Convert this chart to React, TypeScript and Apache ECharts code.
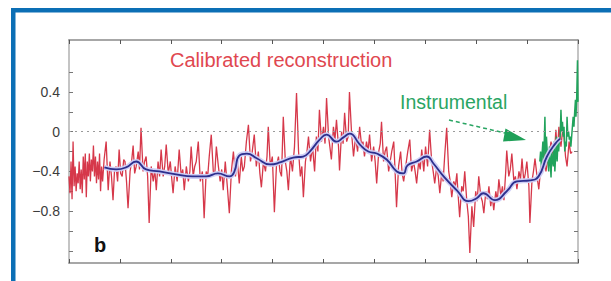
import React, { useEffect, useRef } from "react";
import * as echarts from "echarts";

// Calibrated reconstruction (year, anomaly)
const reconstruction: [number, number][] = [
  [0, -0.45], [4, -0.62], [8, -0.3], [12, -0.68], [16, -0.1], [20, -0.55], [24, -0.35], [28, -0.6],
  [32, -0.42], [36, -0.52], [40, -0.3], [44, -0.58], [48, -0.38], [52, -0.62], [56, -0.25], [60, -0.48],
  [64, -0.22], [68, -0.66], [72, -0.3], [76, -0.45], [80, -0.22], [84, -0.5], [88, -0.28], [92, -0.4],
  [96, -0.14], [100, -0.45], [104, -0.25], [108, -0.52], [112, -0.3], [116, -0.48], [120, -0.22], [124, -0.6],
  [128, -0.35], [132, -0.5], [138, -0.28], [146, -0.1], [154, -0.59], [161, -0.3], [167, -0.45], [173, -0.69],
  [179, -0.38], [185, -0.35], [191, -0.5], [197, -0.18], [203, -0.42], [209, -0.45], [215, -0.28], [220, -0.3],
  [226, -0.5], [232, -0.77], [240, -0.4], [246, -0.3], [252, -0.14], [258, -0.42], [264, -0.35], [272, -0.2],
  [277, -0.38], [283, 0.04], [291, -0.4], [297, -0.3], [303, -0.25], [309, -0.45], [315, -0.92], [323, -0.35],
  [331, -0.5], [337, -0.38], [343, -0.59], [350, -0.3], [356, -0.45], [362, -0.18], [370, -0.45], [376, -0.35],
  [382, -0.13], [390, -0.42], [398, -0.3], [404, -0.48], [409, -0.62], [417, -0.35], [425, -0.5], [433, -0.18],
  [441, -0.45], [447, -0.38], [453, -0.59], [461, -0.35], [469, -0.5], [475, -0.4], [480, -0.15], [488, -0.45],
  [494, -0.35], [500, -0.3], [508, -0.1], [516, -0.5], [524, -0.4], [531, -0.87], [539, -0.4], [545, -0.45],
  [551, -0.25], [559, -0.03], [567, -0.4], [573, -0.42], [579, -0.15], [587, -0.35], [594, -0.5], [600, -0.38],
  [606, -0.59], [614, -0.3], [622, -0.55], [630, -0.82], [638, -0.4], [646, -0.2], [654, -0.45], [661, -0.28],
  [669, -0.52], [677, -0.25], [683, -0.4], [689, -0.35], [697, -0.1], [705, 0.07], [713, -0.3], [720, -0.2],
  [728, -0.03], [736, -0.35], [744, -0.2], [750, -0.42], [756, -0.56], [764, -0.3], [772, -0.4], [778, -0.25],
  [783, 0.05], [791, -0.35], [799, -0.25], [807, -0.81], [815, -0.35], [823, -0.25], [829, -0.4], [835, -0.45],
  [842, 0.15], [850, -0.3], [856, -0.4], [862, -0.59], [870, -0.25], [878, -0.4], [886, -0.15], [894, 0.39],
  [902, -0.2], [909, -0.45], [915, -0.35], [921, -0.66], [929, -0.3], [935, -0.2], [941, -0.05], [949, -0.3],
  [957, -0.15], [965, -0.4], [972, -0.05], [978, -0.2], [984, 0.22], [992, -0.1], [1000, 0.05], [1006, -0.12],
  [1012, 0.34], [1020, -0.05], [1025, -0.15], [1031, -0.28], [1039, 0.05], [1045, -0.08], [1051, 0.12],
  [1059, -0.15], [1063, -0.39], [1071, 0.0], [1077, -0.12], [1083, 0.19], [1091, -0.1], [1097, -0.05],
  [1102, 0.4], [1110, 0.0], [1118, -0.25], [1126, -0.05], [1134, -0.2], [1142, 0.05], [1150, -0.15],
  [1155, -0.1], [1161, -0.25], [1169, -0.1], [1175, -0.2], [1181, -0.03], [1189, -0.3], [1197, -0.15],
  [1203, -0.3], [1209, -0.52], [1217, -0.2], [1223, -0.12], [1228, 0.1], [1236, -0.3], [1242, -0.2],
  [1248, -0.15], [1256, -0.4], [1262, -0.3], [1268, -0.2], [1276, -0.1], [1281, -0.38], [1287, -0.76],
  [1295, -0.35], [1303, -0.2], [1309, -0.42], [1315, -0.5], [1323, -0.35], [1331, -0.2], [1339, -0.08],
  [1346, -0.4], [1354, -0.3], [1360, -0.4], [1366, -0.52], [1374, -0.3], [1380, -0.38], [1386, -0.18],
  [1394, -0.4], [1401, -0.15], [1409, -0.35], [1417, 0.02], [1425, -0.3], [1431, -0.4], [1437, -0.52],
  [1445, -0.35], [1451, -0.45], [1457, -0.62], [1465, -0.4], [1470, -0.5], [1476, -0.25], [1484, 0.04],
  [1492, -0.4], [1498, -0.5], [1504, -0.66], [1512, -0.5], [1518, -0.55], [1524, -0.42], [1528, -0.6],
  [1535, -0.86], [1543, -0.55], [1549, -0.6], [1555, -0.4], [1563, -0.7], [1569, -0.85], [1575, -1.22],
  [1583, -0.75], [1590, -0.96], [1598, -0.6], [1604, -0.7], [1610, -0.45], [1618, -0.65], [1624, -0.7],
  [1630, -0.82], [1638, -0.6], [1644, -0.68], [1650, -0.55], [1657, -0.75], [1663, -0.65], [1669, -0.79],
  [1677, -0.6], [1683, -0.7], [1689, -0.48], [1697, -0.65], [1703, -0.55], [1709, -0.69], [1716, -0.4],
  [1720, -0.19], [1728, -0.45], [1734, -0.38], [1740, -0.22], [1748, -0.5], [1754, -0.45], [1760, -0.58],
  [1768, -0.4], [1774, -0.48], [1780, -0.27], [1787, -0.5], [1793, -0.42], [1799, -0.3], [1807, -0.55],
  [1811, -0.92], [1819, -0.5], [1825, -0.4], [1831, -0.27], [1839, -0.45], [1846, -0.58], [1854, -0.35],
  [1860, -0.4], [1866, -0.2], [1874, -0.4], [1880, -0.3], [1886, -0.25], [1894, -0.1], [1900, -0.2],
  [1906, -0.3], [1913, 0.02], [1919, -0.2], [1925, 0.05], [1933, -0.15], [1939, 0.0], [1945, -0.05],
  [1951, -0.25], [1957, -0.35], [1965, -0.1], [1971, -0.22], [1977, -0.2],
];

// Instrumental record (year, anomaly)
const instrumental: [number, number][] = [
  [1850, -0.3], [1853, -0.2], [1856, -0.35], [1859, -0.22], [1862, -0.1], [1865, -0.3], [1868, -0.05],
  [1870, 0.15], [1873, -0.3], [1876, -0.05], [1879, -0.2], [1882, -0.3], [1885, -0.4], [1888, -0.15],
  [1891, -0.3], [1894, -0.46], [1897, -0.2], [1900, -0.3], [1903, -0.35], [1906, -0.1], [1909, -0.4],
  [1912, -0.25], [1915, -0.05], [1918, -0.3], [1921, -0.1], [1924, -0.2], [1927, -0.08], [1930, -0.05],
  [1933, 0.22], [1936, 0.0], [1939, 0.1], [1942, -0.05], [1945, 0.05], [1948, -0.2], [1951, -0.1],
  [1954, -0.15], [1957, 0.15], [1960, -0.05], [1963, 0.0], [1966, -0.08], [1969, -0.05], [1972, -0.15],
  [1975, -0.05], [1978, 0.05], [1981, 0.15], [1984, 0.05], [1987, 0.2], [1990, 0.32], [1992, 0.15],
  [1995, 0.35], [1998, 0.72], [2000, 0.3],
];

// Low-frequency component (year, anomaly)
const smoothed: [number, number][] = [
  [139, -0.36], [185, -0.38], [224, -0.36], [264, -0.3], [303, -0.38], [356, -0.4], [421, -0.43],
  [486, -0.45], [539, -0.45], [585, -0.42], [631, -0.45], [650, -0.4], [669, -0.24], [699, -0.22],
  [739, -0.27], [790, -0.33], [829, -0.31], [881, -0.26], [920, -0.25], [946, -0.2], [985, -0.08],
  [1012, -0.03], [1051, -0.1], [1077, -0.06], [1103, -0.02], [1143, -0.13], [1176, -0.2], [1209, -0.22],
  [1248, -0.28], [1288, -0.4], [1314, -0.42], [1330, -0.34], [1366, -0.3], [1406, -0.25], [1432, -0.32],
  [1472, -0.45], [1524, -0.59], [1570, -0.7], [1602, -0.67], [1628, -0.62], [1674, -0.69], [1720, -0.6],
  [1760, -0.5], [1812, -0.49], [1845, -0.45], [1878, -0.25], [1911, -0.12], [1930, -0.07],
];

const yTickValues = [-1.2, -1.0, -0.8, -0.6, -0.4, -0.2, 0, 0.2, 0.4, 0.6];
const yLabelValues = [-0.8, -0.4, 0, 0.4];

const fmt = (v: number) =>
  Math.abs(v) < 1e-9 ? "0" : (v < 0 ? "\u2212" : "") + Math.abs(v).toFixed(1);

export default function App() {
  const ref = useRef<HTMLDivElement>(null);
  useEffect(() => {
    if (!ref.current) return;
    const chart = echarts.init(ref.current, null, { renderer: "svg" });
    const axisBase = {
      type: "value" as const,
      min: 0,
      max: 2000,
      interval: 200,
      axisLabel: { show: false },
      splitLine: { show: false },
      axisLine: { show: true, onZero: false, lineStyle: { color: "#8a8a8a", width: 1.5 } },
      axisTick: { show: true, inside: true, length: 4, lineStyle: { color: "#555" } },
    };
    const yBase = {
      type: "value" as const,
      min: -1.322,
      max: 0.923,
      splitLine: { show: false },
      axisLine: { show: true, onZero: false, lineStyle: { color: "#c4c4c4", width: 2 } },
      axisTick: {
        show: true,
        inside: true,
        length: 4,
        customValues: yTickValues,
        lineStyle: { color: "#777" },
      },
    };
    chart.setOption({
      animation: false,
      backgroundColor: "#ffffff",
      grid: { left: 69, right: 33, top: 40, bottom: 18 },
      xAxis: [
        { ...axisBase, position: "bottom" },
        { ...axisBase, position: "top" },
      ],
      yAxis: [
        {
          ...yBase,
          position: "left",
          axisLabel: {
            show: true,
            customValues: yLabelValues,
            formatter: fmt,
            margin: 9,
            color: "#3c3c3c",
            fontSize: 14,
            fontFamily: '"Liberation Sans", Arial, sans-serif',
          },
        },
        { ...yBase, position: "right", axisLabel: { show: false } },
      ],
      series: [
        {
          type: "line",
          data: reconstruction,
          showSymbol: false,
          lineStyle: { color: "#d6384a", width: 1.3 },
          z: 2,
          markLine: {
            silent: true,
            symbol: ["none", "none"],
            label: { show: false },
            lineStyle: { color: "#9a9a9a", type: [2, 4], width: 1 },
            data: [{ yAxis: 0 }],
          },
        },
        {
          type: "line",
          data: instrumental,
          showSymbol: false,
          lineStyle: { color: "#21a35c", width: 1.5 },
          z: 3,
        },
        {
          type: "line",
          data: smoothed,
          smooth: true,
          showSymbol: false,
          lineStyle: { color: "rgba(205,205,245,0.95)", width: 5 },
          z: 4,
        },
        {
          type: "line",
          data: smoothed,
          smooth: true,
          showSymbol: false,
          lineStyle: { color: "#2c2f8e", width: 1.8 },
          z: 5,
        },
      ],
      graphic: [
        { type: "rect", shape: { x: 11, y: 8, width: 4.5, height: 273 }, style: { fill: "#0c6fb5" } },
        { type: "rect", shape: { x: 11, y: 8, width: 600, height: 4.5 }, style: { fill: "#0c6fb5" } },
        {
          type: "text",
          x: 170,
          y: 60,
          style: {
            text: "Calibrated reconstruction",
            fill: "#e0474f",
            font: '20px "Liberation Sans", Arial, sans-serif',
            textAlign: "left",
            textVerticalAlign: "middle",
            verticalAlign: "middle",
          },
        },
        {
          type: "text",
          x: 400,
          y: 102,
          style: {
            text: "Instrumental",
            fill: "#2aa563",
            font: '19.5px "Liberation Sans", Arial, sans-serif',
            textAlign: "left",
            textVerticalAlign: "middle",
            verticalAlign: "middle",
          },
        },
        {
          type: "text",
          x: 94,
          y: 245,
          style: {
            text: "b",
            fill: "#111111",
            font: 'bold 20px "Liberation Sans", Arial, sans-serif',
            textAlign: "left",
            textVerticalAlign: "middle",
            verticalAlign: "middle",
          },
        },
        {
          type: "line",
          shape: { x1: 449, y1: 120, x2: 505, y2: 133 },
          style: { stroke: "#2aa563", lineWidth: 1.5, lineDash: [4, 3] },
        },
        {
          type: "polygon",
          shape: { points: [[526, 140], [505.5, 128.5], [503, 141.5]] },
          style: { fill: "#1fa058" },
        },
      ],
    });
    return () => chart.dispose();
  }, []);
  return (
    <div
      ref={ref}
      style={{ position: "fixed", left: 0, top: 0, width: 611, height: 281, background: "#fff" }}
    />
  );
}
